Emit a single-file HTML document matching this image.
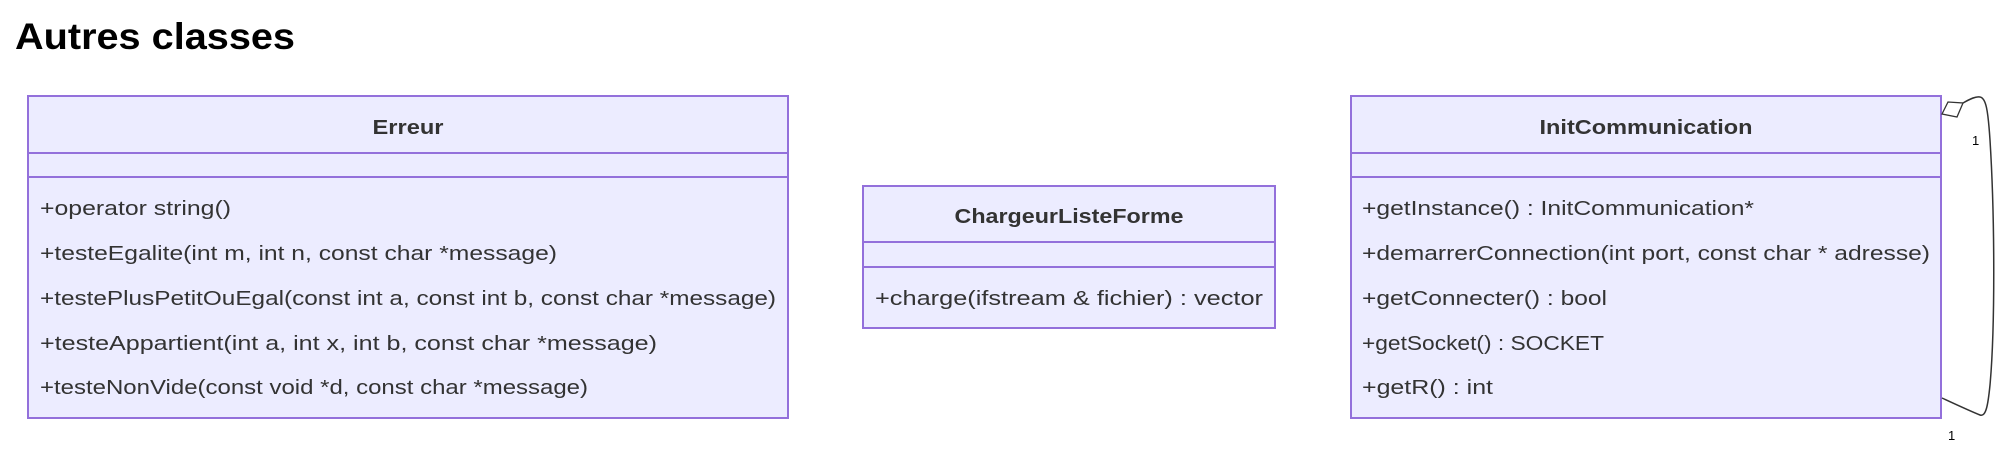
<!DOCTYPE html>
<html><head><style>html,body{margin:0;padding:0;background:#fff;}svg{display:block}</style></head>
<body>
<svg width="2014" height="454" xmlns="http://www.w3.org/2000/svg" font-family="'Liberation Sans', sans-serif">
<text x="15" y="49" font-size="37" font-weight="bold" textLength="280" lengthAdjust="spacingAndGlyphs" fill="#000">Autres classes</text>
<g fill="#ECECFF" stroke="#9370DB" stroke-width="2">
<rect x="28" y="96" width="760" height="322"/>
<line x1="28" y1="153" x2="788" y2="153"/><line x1="28" y1="177" x2="788" y2="177"/>
<rect x="863" y="186" width="412" height="142"/>
<line x1="863" y1="242" x2="1275" y2="242"/><line x1="863" y1="267" x2="1275" y2="267"/>
<rect x="1351" y="96" width="590" height="322"/>
<line x1="1351" y1="153" x2="1941" y2="153"/><line x1="1351" y1="177" x2="1941" y2="177"/>
</g>
<g font-size="20" fill="#333">
<text x="408" y="134" text-anchor="middle" font-weight="bold" textLength="71" lengthAdjust="spacingAndGlyphs">Erreur</text>
<text x="40" y="215" textLength="191" lengthAdjust="spacingAndGlyphs">+operator string()</text>
<text x="40" y="260" textLength="517" lengthAdjust="spacingAndGlyphs">+testeEgalite(int m, int n, const char *message)</text>
<text x="40" y="305" textLength="736" lengthAdjust="spacingAndGlyphs">+testePlusPetitOuEgal(const int a, const int b, const char *message)</text>
<text x="40" y="350" textLength="617" lengthAdjust="spacingAndGlyphs">+testeAppartient(int a, int x, int b, const char *message)</text>
<text x="40" y="394" textLength="548" lengthAdjust="spacingAndGlyphs">+testeNonVide(const void *d, const char *message)</text>
<text x="1069" y="223" text-anchor="middle" font-weight="bold" textLength="229" lengthAdjust="spacingAndGlyphs">ChargeurListeForme</text>
<text x="875" y="305" textLength="388" lengthAdjust="spacingAndGlyphs">+charge(ifstream &amp; fichier) : vector</text>
<text x="1646" y="134" text-anchor="middle" font-weight="bold" textLength="213" lengthAdjust="spacingAndGlyphs">InitCommunication</text>
<text x="1362" y="215" textLength="392" lengthAdjust="spacingAndGlyphs">+getInstance() : InitCommunication*</text>
<text x="1362" y="260" textLength="568" lengthAdjust="spacingAndGlyphs">+demarrerConnection(int port, const char * adresse)</text>
<text x="1362" y="305" textLength="245" lengthAdjust="spacingAndGlyphs">+getConnecter() : bool</text>
<text x="1362" y="350" textLength="242" lengthAdjust="spacingAndGlyphs">+getSocket() : SOCKET</text>
<text x="1362" y="394" textLength="131" lengthAdjust="spacingAndGlyphs">+getR() : int</text>
</g>
<path d="M1942,114 L1948,102 L1963,103 L1957,117 Z" fill="#fff" stroke="#333" stroke-width="1.3"/>
<path d="M1963,103 C1970,99 1976,96 1980,97 C1986,98 1988,110 1990,140 C1995,220 1995,330 1990,385 C1988,405 1986,417 1980,415 C1970,411 1955,404 1942,398" fill="none" stroke="#333" stroke-width="1.5"/>
<text x="1972" y="145" font-size="13" fill="#000">1</text>
<text x="1948" y="440" font-size="13" fill="#000">1</text>
</svg>
</body></html>
